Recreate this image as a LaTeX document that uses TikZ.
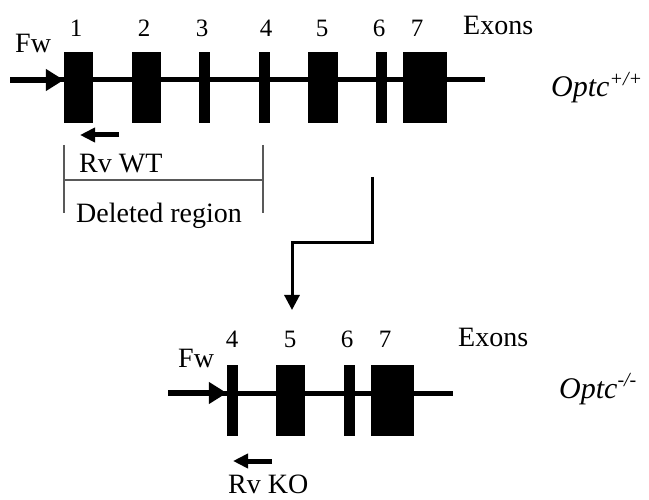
\documentclass[tikz,border=0pt]{standalone}
\usepackage{fontspec}
\setmainfont{Liberation Serif}
\usetikzlibrary{arrows.meta}
\newcommand{\supx}[1]{\raisebox{0.38em}{\fontsize{20}{22}\selectfont #1}}
\begin{document}
\begin{tikzpicture}[x=1pt,y=-1pt,
  exon/.style={fill=black,draw=none,inner sep=0pt,minimum height=71pt},
  gene/.style={line width=5pt},
  primer/.style={line width=6pt,-{Triangle[length=18pt,width=21pt]}},
  rvprimer/.style={line width=5pt,-{Triangle[length=15pt,width=14pt]}},
  num/.style={font=\fontsize{25}{27}\selectfont,anchor=base,inner sep=0pt},
  lab/.style={font=\fontsize{28}{30}\selectfont,anchor=base west,inner sep=0pt},
  gname/.style={font=\fontsize{30}{32}\selectfont\itshape,anchor=base west,inner sep=0pt},
  bracket/.style={line width=1.2pt,draw=black!65},
  flow/.style={line width=3pt,-{Triangle[length=15pt,width=15pt]}}]
\useasboundingbox (0,0) rectangle (649,500);
% ---------- wild-type ----------
\coordinate (g1s) at (10,80);
\coordinate (g1e) at (485,80);
\draw[gene] (g1s) -- (g1e);
\node[exon,minimum width=29pt] (e1) at (78.5,87.5) {};
\node[exon,minimum width=29pt] (e2) at (146.5,87.5) {};
\node[exon,minimum width=11pt] (e3) at (204.5,87.5) {};
\node[exon,minimum width=11pt] (e4) at (264.5,87.5) {};
\node[exon,minimum width=30pt] (e5) at (323,87.5) {};
\node[exon,minimum width=11pt] (e6) at (381.5,87.5) {};
\node[exon,minimum width=44pt] (e7) at (425,87.5) {};
\draw[primer] (g1s) -- (e1.west |- g1s);
\node[num] (n1) at (76,37) {1};
\node[num] (n2) at (144,37) {2};
\node[num] (n3) at (202,37) {3};
\node[num] (n4) at (266,37) {4};
\node[num] (n5) at (322,37) {5};
\node[num] (n6) at (379,37) {6};
\node[num] (n7) at (417,37) {7};
\node[lab] (ex1) at (463,35) {Exons};
\node[lab] (fw1) at (15,53) {Fw};
\node[gname] (wt) at (551,97) {Optc\supx{+/+}};
\coordinate (rv1s) at (119,135);
\coordinate (rv1e) at (80,135);
\draw[rvprimer] (rv1s) -- (rv1e);
\node[lab] (rvwt) at (79,173) {Rv WT};
\coordinate (b1) at (64,145);
\coordinate (b2) at (64,213);
\coordinate (b3) at (263,145);
\coordinate (b4) at (263,213);
\coordinate (b5) at (64,180);
\coordinate (b6) at (263,180);
\draw[bracket] (b1) -- (b2) (b3) -- (b4) (b5) -- (b6);
\node[lab] (del) at (76,223) {Deleted region};
% ---------- connector ----------
\coordinate (c1) at (372,177);
\coordinate (c2) at (292,310);
\draw[flow] (c1) -- (372,243) -- (292,243) -- (c2);
% ---------- knock-out ----------
\coordinate (g2s) at (168,393);
\coordinate (g2e) at (453,393);
\draw[gene] (g2s) -- (g2e);
\node[exon,minimum width=11pt] (k4) at (232.5,400.5) {};
\node[exon,minimum width=29pt] (k5) at (290.5,400.5) {};
\node[exon,minimum width=11pt] (k6) at (349.5,400.5) {};
\node[exon,minimum width=43pt] (k7) at (392.5,400.5) {};
\draw[primer] (g2s) -- (k4.west |- g2s);
\node[num] (m4) at (232,348) {4};
\node[num] (m5) at (290,348) {5};
\node[num] (m6) at (347,348) {6};
\node[num] (m7) at (385,348) {7};
\node[lab] (ex2) at (458,347) {Exons};
\node[lab] (fw2) at (178,367) {Fw};
\node[gname] (ko) at (559,398) {Optc\supx{-/-}};
\coordinate (rv2s) at (272,461);
\coordinate (rv2e) at (233,461);
\draw[rvprimer] (rv2s) -- (rv2e);
\node[lab] (rvko) at (228,493) {Rv KO};
\end{tikzpicture}
\end{document}
